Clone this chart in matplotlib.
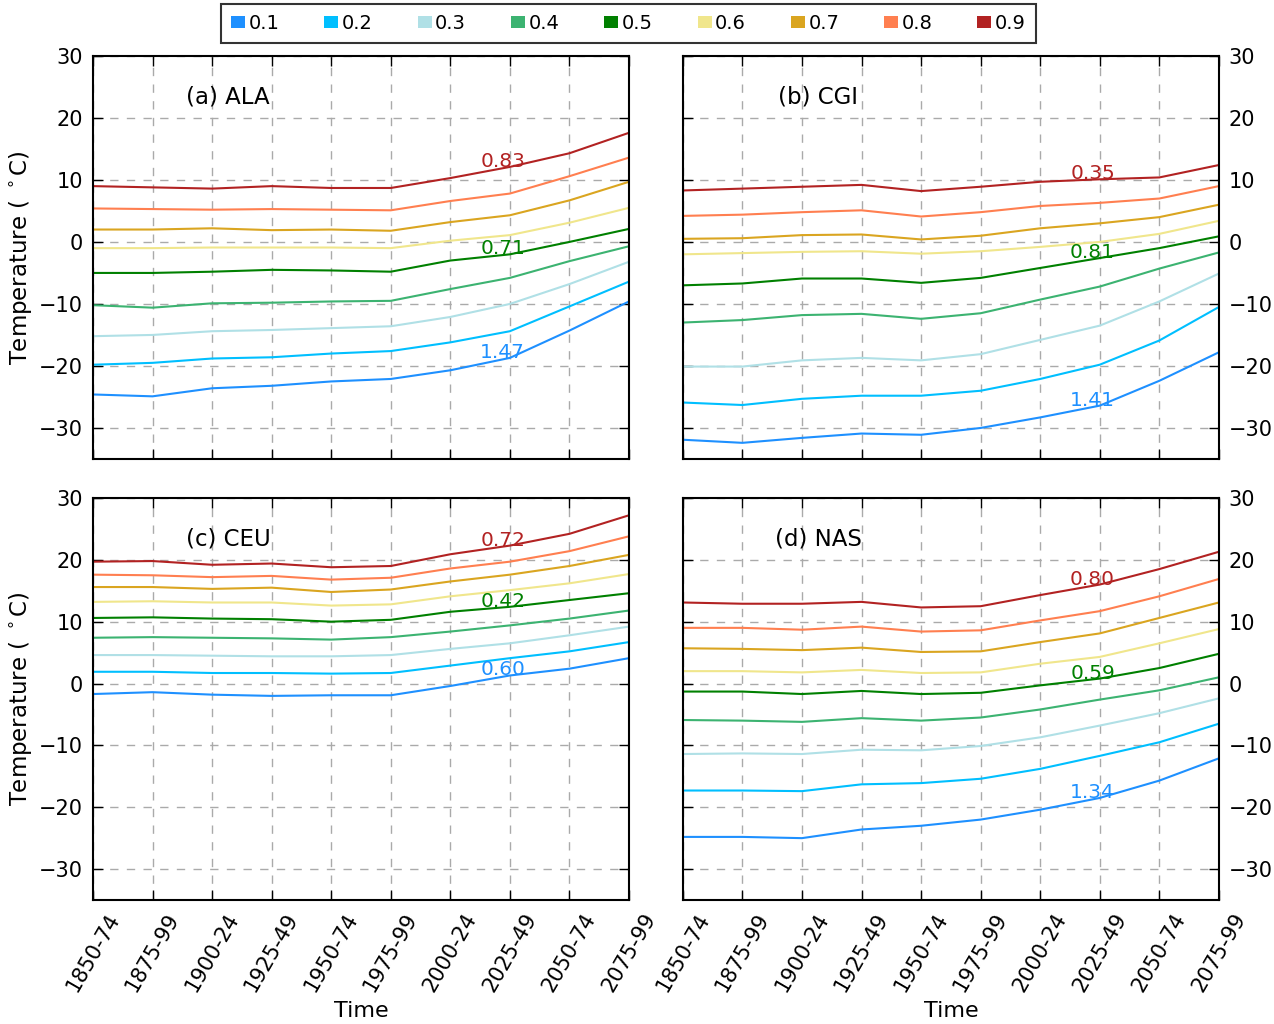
import matplotlib
matplotlib.use("Agg")
import matplotlib.pyplot as plt
from matplotlib.patches import Patch

periods = ["1850-74", "1875-99", "1900-24", "1925-49", "1950-74",
           "1975-99", "2000-24", "2025-49", "2050-74", "2075-99"]
quantiles = ["0.1", "0.2", "0.3", "0.4", "0.5", "0.6", "0.7", "0.8", "0.9"]
colors = ["dodgerblue", "deepskyblue", "powderblue", "mediumseagreen", "green",
          "khaki", "goldenrod", "coral", "firebrick"]

# quantile temperatures (deg C), rows = 0.1 ... 0.9
ala = [
    [-24.6, -24.9, -23.6, -23.2, -22.5, -22.1, -20.7, -18.7, -14.3, -9.6],
    [-19.8, -19.5, -18.8, -18.6, -18.0, -17.6, -16.2, -14.4, -10.4, -6.4],
    [-15.2, -15.0, -14.4, -14.2, -13.9, -13.6, -12.1, -10.0, -6.8, -3.2],
    [-10.2, -10.6, -9.9, -9.8, -9.6, -9.5, -7.6, -5.8, -3.1, -0.7],
    [-5.0, -5.0, -4.8, -4.5, -4.6, -4.8, -3.0, -2.0, 0.0, 2.1],
    [-1.0, -1.0, -0.9, -0.9, -0.9, -1.0, 0.2, 1.1, 3.1, 5.5],
    [2.0, 2.0, 2.2, 1.9, 2.0, 1.8, 3.2, 4.3, 6.7, 9.7],
    [5.4, 5.3, 5.2, 5.3, 5.2, 5.1, 6.6, 7.8, 10.6, 13.6],
    [9.0, 8.8, 8.6, 9.0, 8.7, 8.7, 10.3, 12.1, 14.3, 17.6],
]
cgi = [
    [-31.9, -32.4, -31.6, -30.9, -31.1, -30.0, -28.3, -26.4, -22.4, -17.8],
    [-25.9, -26.3, -25.3, -24.8, -24.8, -24.0, -22.1, -19.8, -15.9, -10.5],
    [-20.1, -20.1, -19.1, -18.7, -19.1, -18.1, -15.8, -13.5, -9.6, -5.1],
    [-13.0, -12.6, -11.8, -11.6, -12.4, -11.5, -9.3, -7.2, -4.3, -1.7],
    [-7.0, -6.7, -5.9, -5.9, -6.6, -5.8, -4.2, -2.6, -1.0, 0.9],
    [-2.0, -1.8, -1.6, -1.5, -1.9, -1.5, -0.8, 0.0, 1.3, 3.4],
    [0.5, 0.6, 1.1, 1.2, 0.4, 1.0, 2.2, 3.0, 4.0, 6.0],
    [4.2, 4.4, 4.8, 5.1, 4.1, 4.8, 5.8, 6.3, 7.0, 9.0],
    [8.3, 8.6, 8.9, 9.2, 8.2, 8.9, 9.7, 10.1, 10.4, 12.4],
]
ceu = [
    [-1.7, -1.4, -1.8, -2.0, -1.9, -1.9, -0.4, 1.3, 2.4, 4.1],
    [1.9, 1.9, 1.7, 1.7, 1.6, 1.7, 2.9, 4.1, 5.2, 6.7],
    [4.6, 4.6, 4.5, 4.4, 4.4, 4.6, 5.6, 6.5, 7.8, 9.2],
    [7.4, 7.5, 7.4, 7.3, 7.1, 7.5, 8.4, 9.4, 10.5, 11.8],
    [10.6, 10.7, 10.5, 10.4, 10.0, 10.3, 11.6, 12.4, 13.5, 14.6],
    [13.2, 13.3, 13.1, 13.1, 12.6, 12.8, 14.1, 15.1, 16.2, 17.7],
    [15.6, 15.6, 15.3, 15.5, 14.8, 15.2, 16.5, 17.6, 19.0, 20.8],
    [17.6, 17.5, 17.2, 17.4, 16.8, 17.1, 18.6, 19.7, 21.4, 23.8],
    [19.7, 19.8, 19.2, 19.4, 18.8, 19.0, 20.9, 22.3, 24.2, 27.2],
]
nas = [
    [-24.8, -24.8, -25.0, -23.6, -23.0, -22.0, -20.4, -18.5, -15.7, -12.1],
    [-17.3, -17.3, -17.4, -16.3, -16.1, -15.4, -13.8, -11.7, -9.5, -6.5],
    [-11.4, -11.3, -11.4, -10.7, -10.8, -10.1, -8.7, -6.8, -4.8, -2.4],
    [-5.9, -6.0, -6.2, -5.6, -6.0, -5.5, -4.2, -2.6, -1.1, 1.0],
    [-1.3, -1.3, -1.7, -1.2, -1.7, -1.5, -0.3, 0.8, 2.5, 4.8],
    [2.0, 2.0, 1.8, 2.2, 1.7, 1.8, 3.2, 4.3, 6.5, 8.8],
    [5.7, 5.6, 5.4, 5.8, 5.1, 5.2, 6.7, 8.1, 10.6, 13.1],
    [9.0, 9.0, 8.7, 9.2, 8.4, 8.6, 10.2, 11.7, 14.1, 16.9],
    [13.1, 12.9, 12.9, 13.2, 12.3, 12.5, 14.3, 16.0, 18.5, 21.3],
]

titles = ["(a) ALA", "(b) CGI", "(c) CEU", "(d) NAS"]
panels = [ala, cgi, ceu, nas]
# annotated values for quantiles 0.9, 0.5, 0.1
notes = [["0.83", "0.71", "1.47"], ["0.35", "0.81", "1.41"],
         ["0.72", "0.42", "0.60"], ["0.80", "0.59", "1.34"]]

fig = plt.figure(figsize=(12.74, 10.24), dpi=100)
boxes = [[0.073, 0.5518, 0.4207, 0.3936], [0.536, 0.5518, 0.4207, 0.3936],
         [0.073, 0.1211, 0.4207, 0.3926], [0.536, 0.1211, 0.4207, 0.3926]]

x = list(range(len(periods)))
for k, (data, title) in enumerate(zip(panels, titles)):
    ax = fig.add_axes(boxes[k])
    for q in range(len(quantiles)):
        ax.plot(x, data[q], color=colors[q], lw=1.5)
    for q, txt in zip([8, 4, 0], notes[k]):
        ax.text(6.88, data[q][7], txt, color=colors[q], fontsize=14.5,
                ha="center", va="baseline")
    ax.text(2.27, 23.4, title, fontsize=16.5, ha="center", va="center")

    ax.set_xlim(0, 9)
    ax.set_ylim(-35, 30)
    ax.set_yticks([-30, -20, -10, 0, 10, 20, 30])
    ax.set_xticks(x)
    ax.grid(True, color="#aaaaaa", linestyle=(0, (6, 6)), lw=1)
    ax.tick_params(direction="in", top=True, right=True, length=7, width=1,
                   labelsize=15, pad=7)
    for s in ax.spines.values():
        s.set_linewidth(1.5)

    if k >= 2:
        ax.set_xticklabels(periods, rotation=60, ha="center")
        ax.set_xlabel("Time", fontsize=16)
    else:
        ax.set_xticklabels([])
    if k % 2 == 1:
        ax.yaxis.set_label_position("right")
        ax.tick_params(labelleft=False, labelright=True)
    else:
        ax.set_ylabel("Temperature ( $^\\circ$C)", fontsize=16.5)

handles = [Patch(facecolor=c, edgecolor="none") for c in colors]
leg = fig.legend(handles, quantiles, loc="upper center", ncol=9,
                 bbox_to_anchor=(0.4933, 0.996), borderaxespad=0, fontsize=14,
                 handlelength=0.72, handleheight=0.6, handletextpad=0.19,
                 columnspacing=2.3, fancybox=False, borderpad=0.5)
leg.get_frame().set_edgecolor("black")
leg.get_frame().set_linewidth(1.5)

fig.savefig("out.png", dpi=100)
